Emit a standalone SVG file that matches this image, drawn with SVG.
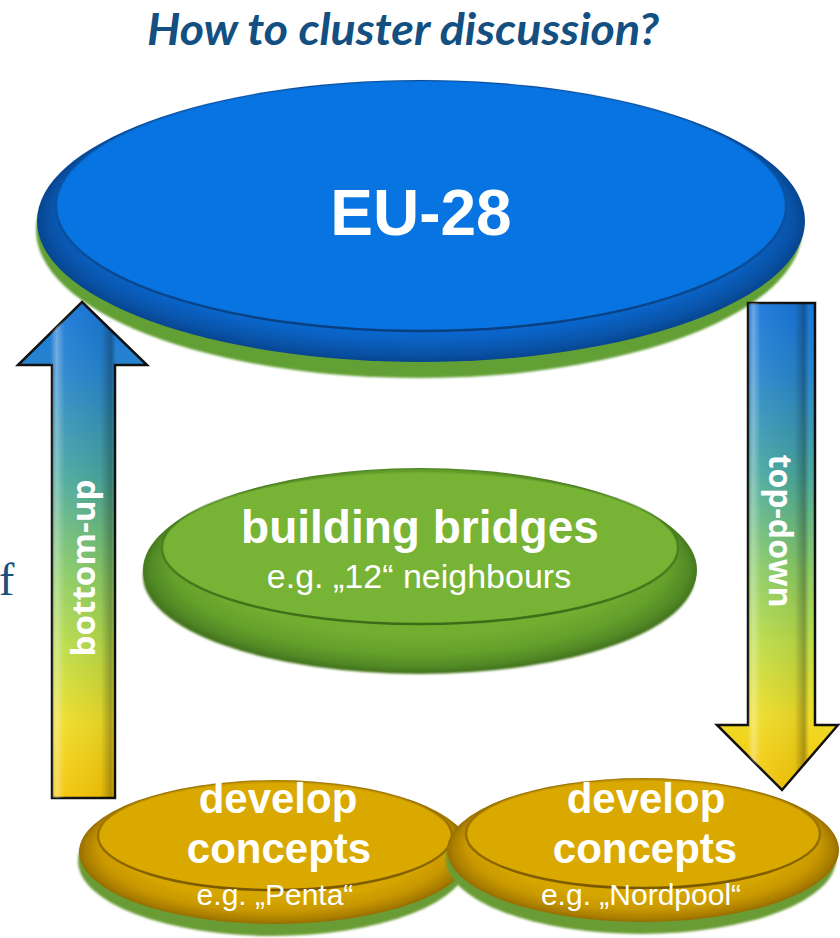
<svg xmlns="http://www.w3.org/2000/svg" width="840" height="938" viewBox="0 0 840 938">
<style>
.title{font-family:Lato,"Open Sans","Liberation Sans",sans-serif;font-weight:bold;font-style:italic;fill:#134f80}
.big{font-family:"Liberation Sans",Arial,sans-serif;font-weight:bold;fill:#ffffff;text-anchor:middle}
.sub{font-family:"Liberation Sans",Arial,sans-serif;fill:#ffffff;text-anchor:middle}
.alab{font-family:"Open Sans","Liberation Sans",sans-serif;font-weight:bold;fill:#ffffff;text-anchor:middle;font-size:33px}
.arrow{stroke:#111;stroke-width:2.5;stroke-linejoin:miter}
</style>
<defs>
<filter id="soft" x="-5%" y="-5%" width="110%" height="110%"><feGaussianBlur stdDeviation="1.2"/></filter>
<linearGradient id="arrowGrad" x1="0" y1="0" x2="0" y2="1">
<stop offset="0" stop-color="#1976da"/>
<stop offset="0.15" stop-color="#2a86cc"/>
<stop offset="0.35" stop-color="#4aa8a0"/>
<stop offset="0.55" stop-color="#8ccc66"/>
<stop offset="0.7" stop-color="#bcdc48"/>
<stop offset="0.85" stop-color="#efdc28"/>
<stop offset="1" stop-color="#f5c408"/>
</linearGradient>
<linearGradient id="bevelH" x1="0" y1="0" x2="1" y2="0">
<stop offset="0" stop-color="#ffffff" stop-opacity="0"/>
<stop offset="0.25" stop-color="#ffffff" stop-opacity="0"/>
<stop offset="0.3" stop-color="#ffffff" stop-opacity="0.35"/>
<stop offset="0.36" stop-color="#ffffff" stop-opacity="0.05"/>
<stop offset="0.64" stop-color="#000000" stop-opacity="0.05"/>
<stop offset="0.72" stop-color="#000000" stop-opacity="0.3"/>
<stop offset="0.76" stop-color="#000000" stop-opacity="0"/>
</linearGradient>
<radialGradient id="blueRim" cx="0.5" cy="0.5" r="0.5" fx="0.5" fy="0.12">
<stop offset="0.8" stop-color="#0a72dc"/>
<stop offset="0.9" stop-color="#0a64c8"/>
<stop offset="0.97" stop-color="#0952a6"/>
<stop offset="1" stop-color="#074590"/>
</radialGradient>
<linearGradient id="blueGroove" x1="0" y1="0" x2="0" y2="1">
<stop offset="0" stop-color="#0a4f9c" stop-opacity="0.15"/><stop offset="0.5" stop-color="#0a4f9c" stop-opacity="0.8"/><stop offset="1" stop-color="#083f80" stop-opacity="1"/>
</linearGradient>
<radialGradient id="greenRim" cx="0.5" cy="0.5" r="0.5" fx="0.5" fy="0.12">
<stop offset="0.8" stop-color="#72ae30"/>
<stop offset="0.9" stop-color="#64a02b"/>
<stop offset="0.97" stop-color="#528a25"/>
<stop offset="1" stop-color="#46781f"/>
</radialGradient>
<linearGradient id="greenGroove" x1="0" y1="0" x2="0" y2="1">
<stop offset="0" stop-color="#457a1c" stop-opacity="0.15"/><stop offset="0.5" stop-color="#457a1c" stop-opacity="0.8"/><stop offset="1" stop-color="#3d6c18" stop-opacity="1"/>
</linearGradient>
<radialGradient id="goldRim" cx="0.5" cy="0.5" r="0.5" fx="0.5" fy="0.12">
<stop offset="0.8" stop-color="#d6a600"/>
<stop offset="0.9" stop-color="#c89800"/>
<stop offset="0.97" stop-color="#aa7e00"/>
<stop offset="1" stop-color="#966e00"/>
</radialGradient>
<linearGradient id="goldGroove" x1="0" y1="0" x2="0" y2="1">
<stop offset="0" stop-color="#8a6500" stop-opacity="0.15"/><stop offset="0.5" stop-color="#8a6500" stop-opacity="0.8"/><stop offset="1" stop-color="#7a5800" stop-opacity="1"/>
</linearGradient>
</defs>

<rect width="840" height="938" fill="#ffffff"/>

<g id="title">
<text class="title" x="147" y="45" font-size="44" textLength="512" lengthAdjust="spacingAndGlyphs">How to cluster discussion?</text>
</g>

<g id="fragment">
<text x="-1" y="595" font-family="Liberation Serif,serif" font-size="46" fill="#1a4e7c">f</text>
</g>

<g id="eu28">
<ellipse cx="419" cy="230" rx="383" ry="148" fill="#62a034" filter="url(#soft)"/>
<ellipse cx="421" cy="221" rx="384" ry="141" fill="url(#blueRim)"/>
<ellipse cx="421" cy="206" rx="365" ry="125" fill="#0774e2" stroke="url(#blueGroove)" stroke-width="2.5"/>
<text class="big" x="421" y="235" font-size="64">EU-28</text>
</g>

<g id="bridges">
<ellipse cx="419" cy="576" rx="276" ry="98" fill="#44761e" filter="url(#soft)"/>
<ellipse cx="420" cy="570" rx="277" ry="102" fill="url(#greenRim)"/>
<ellipse cx="420" cy="548" rx="258" ry="76" fill="#77b334" stroke="url(#greenGroove)" stroke-width="2.5"/>
<text class="big" x="420" y="543" font-size="46">building bridges</text>
<text class="sub" x="419" y="588" font-size="34">e.g. „12“ neighbours</text>
</g>

<g id="penta">
<ellipse cx="273" cy="861" rx="195" ry="75" fill="#6a9c34" filter="url(#soft)"/>
<ellipse cx="275" cy="852" rx="196" ry="72" fill="url(#goldRim)"/>
<ellipse cx="275" cy="836" rx="177" ry="54" fill="#daa900" stroke="url(#goldGroove)" stroke-width="2.5"/>
<text class="big" x="278" y="813" font-size="42">develop</text>
<text class="big" x="279" y="863" font-size="42">concepts</text>
<text class="sub" x="275" y="905" font-size="30">e.g. „Penta“</text>
</g>

<g id="nordpool">
<ellipse cx="641" cy="859" rx="195" ry="75" fill="#6a9c34" filter="url(#soft)"/>
<ellipse cx="643" cy="850" rx="196" ry="72" fill="url(#goldRim)"/>
<ellipse cx="643" cy="834" rx="177" ry="54" fill="#daa900" stroke="url(#goldGroove)" stroke-width="2.5"/>
<text class="big" x="646" y="813" font-size="42">develop</text>
<text class="big" x="645" y="863" font-size="42">concepts</text>
<text class="sub" x="641" y="905" font-size="30">e.g. „Nordpool“</text>
</g>

<g id="connectors">
<g id="bottom-up">
<polygon class="arrow" points="82,302 147,365 115,365 115,798 52,798 52,365 18,365" fill="url(#arrowGrad)"/>
<polygon points="82,302 147,365 115,365 115,798 52,798 52,365 18,365" fill="url(#bevelH)"/>
<text class="alab" transform="translate(95,568) rotate(-90)" x="0" y="0" textLength="177" lengthAdjust="spacingAndGlyphs">bottom-up</text>
</g>
<g id="top-down">
<polygon class="arrow" points="748,303 815,303 815,725 838,725 782,790 717,725 748,725" fill="url(#arrowGrad)"/>
<polygon points="748,303 815,303 815,725 838,725 782,790 717,725 748,725" fill="url(#bevelH)"/>
<text class="alab" transform="translate(769,531) rotate(90)" x="0" y="0" textLength="153" lengthAdjust="spacingAndGlyphs">top-down</text>
</g>
</g>
</svg>
